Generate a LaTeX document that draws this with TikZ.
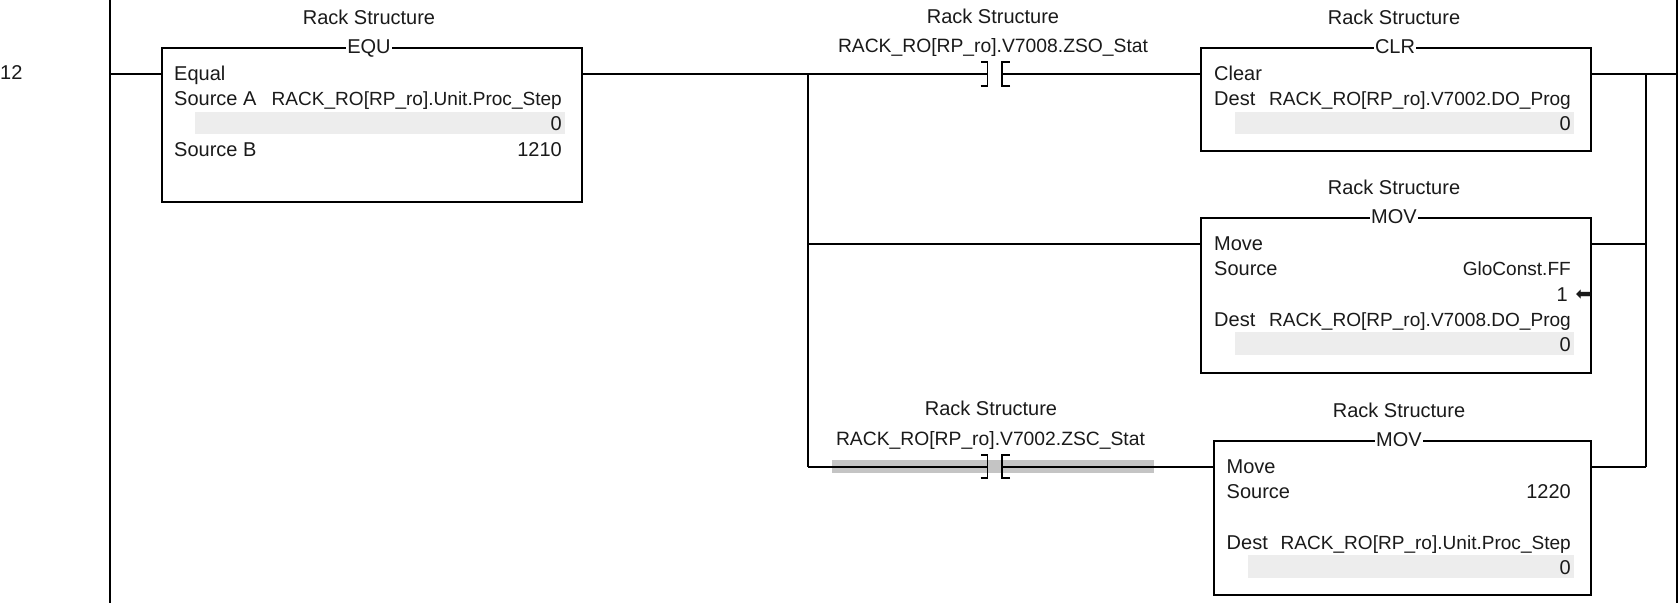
\documentclass[tikz,border=0pt]{standalone}
\usepackage{fontspec}
\setmainfont{Liberation Sans}
\newfontfamily\arrowfont{DejaVu Sans}
\definecolor{ink}{HTML}{1A1A1A}
\definecolor{valuebar}{HTML}{EDEDED}
\definecolor{forcebar}{HTML}{C4C4C4}
\tikzset{
  wire/.style={draw=black,line width=1.7pt},
  thinwire/.style={draw=black,line width=1.3pt},
  instr/.style={draw=black,line width=1.7pt,fill=white,anchor=north west,inner sep=0pt},
  bar/.style={fill=valuebar,draw=none,anchor=north west,inner sep=0pt},
  hibar/.style={fill=forcebar,draw=none,anchor=north west,inner sep=0pt},
  txt/.style={inner sep=0pt,text=ink,font=\fontsize{20}{22}\selectfont,text height=14.5pt,text depth=4pt},
  lt/.style={txt,anchor=west},
  rt/.style={txt,anchor=east},
  ct/.style={txt,anchor=center},
  oper/.style={rt,font=\fontsize{19.05}{22}\selectfont},
  ctag/.style={ct,font=\fontsize{19.3}{22}\selectfont},
  tag/.style={ct,fill=white,inner xsep=1pt}
}
\begin{document}
\begin{tikzpicture}[x=1pt,y=-1pt]
\useasboundingbox (0,0) rectangle (1679,603);
\fill[white] (0,0) rectangle (1679,603);

% power rails and rung junctions
\coordinate (railLtop) at (110,0);
\coordinate (railLbot) at (110,603);
\coordinate (railRtop) at (1677,0);
\coordinate (railRbot) at (1677,603);
\coordinate (rungL) at (110,74);
\coordinate (rungR) at (1677,74);
\coordinate (brA) at (808,74);
\coordinate (brB) at (808,244);
\coordinate (brC) at (808,467);
\coordinate (jnA) at (1646,74);
\coordinate (jnB) at (1646,244);
\coordinate (jnC) at (1646,467);

\node[ct,anchor=west] (rungno) at (0,74) {12};

% highlight behind the lower contact
\node[hibar,minimum width=322pt,minimum height=13pt] (hilite) at (832,460) {};

% instruction boxes
\node[instr,minimum width=420pt,minimum height=154pt] (equ) at (161,47) {};
\node[instr,minimum width=390pt,minimum height=103pt] (clr) at (1200,47) {};
\node[instr,minimum width=390pt,minimum height=155pt] (mova) at (1200,217) {};
\node[instr,minimum width=377pt,minimum height=154pt] (movb) at (1213,440) {};

% grey value fields
\node[bar,minimum width=370pt,minimum height=22pt] (equval) at (195,112) {};
\node[bar,minimum width=339pt,minimum height=22pt] (clrval) at (1235,112) {};
\node[bar,minimum width=339pt,minimum height=23pt] (movaval) at (1235,332) {};
\node[bar,minimum width=326pt,minimum height=23pt] (movbval) at (1248,555) {};

% contact terminals
\coordinate (c1l) at (987.5,74);
\coordinate (c1r) at (1002,74);
\coordinate (c3l) at (987.5,467);
\coordinate (c3r) at (1002,467);

% rails
\draw[wire] (railLtop) -- (railLbot);
\draw[wire] (railRtop) -- (railRbot);

% top rung
\draw[wire] (rungL) -- (equ.west |- rungL);
\draw[wire] (equ.east |- rungL) -- (c1l);
\draw[wire] (c1r) -- (clr.west |- c1r);
\draw[wire] (clr.east |- rungR) -- (rungR);

% parallel branches
\draw[wire] (brA) -- (brB);
\draw[thinwire] (brB) -- (brC);
\draw[wire] (brB) -- (mova.west |- brB);
\draw[thinwire] (brC) -- (c3l);
\draw[thinwire] (c3r) -- (movb.west |- c3r);
\draw[thinwire] (jnA) -- (jnC);
\draw[wire] (mova.east |- jnB) -- (jnB);
\draw[thinwire] (movb.east |- jnC) -- (jnC);

% contact brackets
\draw[wire] ([xshift=-7pt,yshift=-12pt]c1l) -- ([yshift=-12pt]c1l) -- ([yshift=12pt]c1l) -- ([xshift=-7pt,yshift=12pt]c1l);
\draw[wire] ([xshift=8pt,yshift=-12pt]c1r) -- ([yshift=-12pt]c1r) -- ([yshift=12pt]c1r) -- ([xshift=8pt,yshift=12pt]c1r);
\draw[wire] ([xshift=-7pt,yshift=-11pt]c3l) -- ([yshift=-11pt]c3l) -- ([yshift=12pt]c3l) -- ([xshift=-7pt,yshift=12pt]c3l);
\draw[wire] ([xshift=8pt,yshift=-11pt]c3r) -- ([yshift=-11pt]c3r) -- ([yshift=12pt]c3r) -- ([xshift=8pt,yshift=12pt]c3r);

% EQU block
\node[ct] (equrack) at (369,19) {Rack Structure};
\node[tag] (equname) at (369,48) {EQU};
\node[lt] (equt) at (174,75) {Equal};
\node[lt] (equsa) at (174,100) {Source A};
\node[oper] (equsav) at (562,100) {RACK\_RO[RP\_ro].Unit.Proc\_Step};
\node[rt] (equz) at (562,125) {0};
\node[lt] (equsb) at (174,151) {Source B};
\node[rt] (equsbv) at (562,151) {1210};

% upper contact labels
\node[ct] (c1rack) at (993,18) {Rack Structure};
\node[ctag] (c1tag) at (993,47) {RACK\_RO[RP\_ro].V7008.ZSO\_Stat};

% CLR block
\node[ct] (clrrack) at (1394,19) {Rack Structure};
\node[tag] (clrname) at (1395,48) {CLR};
\node[lt] (clrt) at (1214,75) {Clear};
\node[lt] (clrd) at (1214,100) {Dest};
\node[oper] (clrdv) at (1571,100) {RACK\_RO[RP\_ro].V7002.DO\_Prog};
\node[rt] (clrz) at (1571,125) {0};

% first MOV block
\node[ct] (marack) at (1394,189) {Rack Structure};
\node[tag] (maname) at (1394,218) {MOV};
\node[lt] (mat) at (1214,245) {Move};
\node[lt] (mas) at (1214,270) {Source};
\node[oper] (masv) at (1571,270) {GloConst.FF};
\node[rt] (maone) at (1568,296) {1};
\node[txt,anchor=center,font=\arrowfont\fontsize{19}{20}\selectfont] (maforce) at (1583.5,295) {⬅};
\node[lt] (mad) at (1214,321) {Dest};
\node[oper] (madv) at (1571,321) {RACK\_RO[RP\_ro].V7008.DO\_Prog};
\node[rt] (maz) at (1571,346) {0};

% lower contact labels
\node[ct] (c3rack) at (991,410) {Rack Structure};
\node[ctag] (c3tag) at (990.5,440) {RACK\_RO[RP\_ro].V7002.ZSC\_Stat};

% second MOV block
\node[ct] (mbrack) at (1399,412) {Rack Structure};
\node[tag] (mbname) at (1399,441) {MOV};
\node[lt] (mbt) at (1226.5,468) {Move};
\node[lt] (mbs) at (1226.5,493) {Source};
\node[rt] (mbsv) at (1571,493) {1220};
\node[lt] (mbd) at (1226.5,544) {Dest};
\node[oper] (mbdv) at (1571,544) {RACK\_RO[RP\_ro].Unit.Proc\_Step};
\node[rt] (mbz) at (1571,569) {0};
\end{tikzpicture}
\end{document}
